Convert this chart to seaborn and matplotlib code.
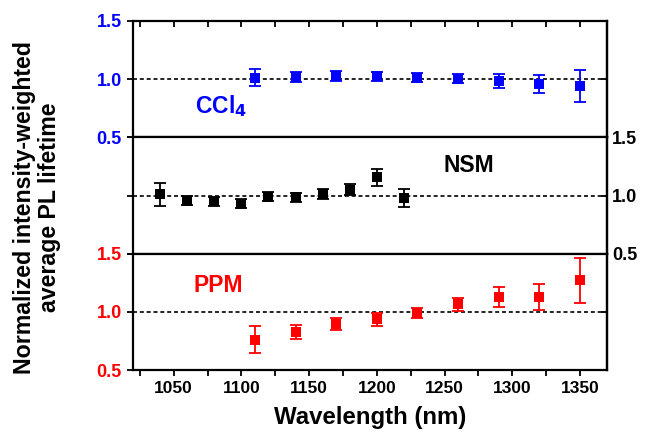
import matplotlib
matplotlib.use("Agg")
import matplotlib.pyplot as plt
import seaborn as sns
import pandas as pd
from matplotlib.ticker import MultipleLocator

# CCl4 (top panel)
ccl4_wl = [1110, 1140, 1170, 1200, 1230, 1260, 1290, 1320, 1350]
ccl4_tau = [1.014, 1.02, 1.026, 1.026, 1.014, 1.003, 0.986, 0.957, 0.94]
ccl4_err = [0.076, 0.042, 0.042, 0.038, 0.038, 0.038, 0.06, 0.075, 0.135]

# NSM (middle panel)
nsm_wl = [1040, 1060, 1080, 1100, 1120, 1140, 1160, 1180, 1200, 1220]
nsm_tau = [1.009, 0.957, 0.95, 0.93, 0.99, 0.986, 1.014, 1.05, 1.158, 0.977]
nsm_err = [0.1, 0.04, 0.04, 0.04, 0.04, 0.04, 0.04, 0.045, 0.073, 0.078]

# PPM (bottom panel)
ppm_wl = [1110, 1140, 1170, 1200, 1230, 1260, 1290, 1320, 1350]
ppm_tau = [0.763, 0.831, 0.894, 0.937, 0.991, 1.066, 1.129, 1.129, 1.271]
ppm_err = [0.12, 0.06, 0.05, 0.055, 0.045, 0.055, 0.085, 0.115, 0.195]

sns.set_style("ticks", {"axes.edgecolor": "black", "text.color": "black",
                        "axes.labelcolor": "black", "xtick.color": "black",
                        "ytick.color": "black"})
plt.rcParams['font.family'] = ['Liberation Sans', 'DejaVu Sans']
plt.rcParams['font.weight'] = 'bold'

fig = plt.figure(figsize=(6.47, 4.38), dpi=100)
left, width = 0.2056, 0.7326
h = 0.2657
bottoms = [0.155 + 2 * h, 0.155 + h, 0.155]
axes = [fig.add_axes([left, b, width, h]) for b in bottoms]

panels = [
    (ccl4_wl, ccl4_tau, ccl4_err, "blue", "CCl$_\\mathbf{4}$", 1085, 0.77),
    (nsm_wl, nsm_tau, nsm_err, "black", "NSM", 1268, 1.26),
    (ppm_wl, ppm_tau, ppm_err, "red", "PPM", 1083, 1.23),
]

for i, (ax, (wl, tau, err, col, name, tx, ty)) in enumerate(zip(axes, panels)):
    df = pd.DataFrame({"wl": wl, "tau": tau})
    ax.axhline(1.0, color="black", ls=(0, (2.4, 1.7)), lw=1.2, zorder=1)
    ax.errorbar(wl, tau, yerr=err, fmt="none", ecolor=col, elinewidth=1.3,
                capsize=4.5, capthick=1.3, zorder=2)
    sns.scatterplot(data=df, x="wl", y="tau", ax=ax, marker="s", s=60,
                    color=col, edgecolor=col, linewidth=0, zorder=3, legend=False)
    ax.text(tx, ty, name, color=col, fontsize=16.5, fontweight="bold",
            ha="center", va="center")
    ax.set_xlim(1020, 1370)
    ax.set_ylim(0.5, 1.5)
    ax.set_xlabel("")
    ax.set_ylabel("")
    ax.xaxis.set_major_locator(MultipleLocator(50))
    ax.xaxis.set_minor_locator(MultipleLocator(25))
    ax.yaxis.set_major_locator(MultipleLocator(0.5))
    for sp in ax.spines.values():
        sp.set_visible(True)
        sp.set_linewidth(1.6)
        sp.set_color("black")
    ax.tick_params(which="both", width=1.3, length=4.5, color="black")
    ax.tick_params(axis="x", labelsize=12.5, labelcolor="black")
    ax.tick_params(axis="y", labelsize=13)

    if i == 0:
        ax.tick_params(axis="x", which="both", bottom=False, top=True,
                       direction="in", labelbottom=False)
        ax.tick_params(axis="y", left=True, right=False, labelleft=True,
                       labelcolor="blue", direction="out")
    elif i == 1:
        ax.tick_params(axis="x", which="both", bottom=False, top=False,
                       labelbottom=False)
        ax.tick_params(axis="y", left=True, right=False, labelleft=False,
                       direction="out")
    else:
        ax.tick_params(axis="x", which="both", bottom=True, top=False,
                       direction="out", labelbottom=True)
        ax.tick_params(axis="y", left=True, right=False, labelleft=True,
                       labelcolor="red", direction="out")
        ax.set_xlabel("Wavelength (nm)", fontsize=17.3, fontweight="bold",
                      labelpad=7, color="black")
    for lab in ax.get_xticklabels() + ax.get_yticklabels():
        lab.set_fontweight("bold")

# right-hand ticks point inwards; only the middle panel is labelled there
for i, ax in enumerate(axes):
    rax = ax.secondary_yaxis("right")
    rax.yaxis.set_major_locator(MultipleLocator(0.5))
    rax.spines["right"].set_linewidth(1.6)
    rax.spines["right"].set_color("black")
    rax.tick_params(axis="y", direction="in", length=4.5, width=1.3,
                    labelsize=13, color="black", labelcolor="black")
    if i == 1:
        rax.tick_params(axis="y", labelright=True)
        for lab in rax.get_yticklabels():
            lab.set_fontweight("bold")
    else:
        rax.tick_params(axis="y", labelright=False)

axes[0].set_yticks([0.5, 1.0, 1.5])
axes[2].set_yticks([0.5, 1.0, 1.5])

fig.text(0.057, 0.526, "Normalized intensity-weighted\naverage PL lifetime",
         rotation=90, ha="center", va="center", fontsize=16.7,
         fontweight="bold", linespacing=1.15, color="black")

fig.savefig("out.png", dpi=100)
